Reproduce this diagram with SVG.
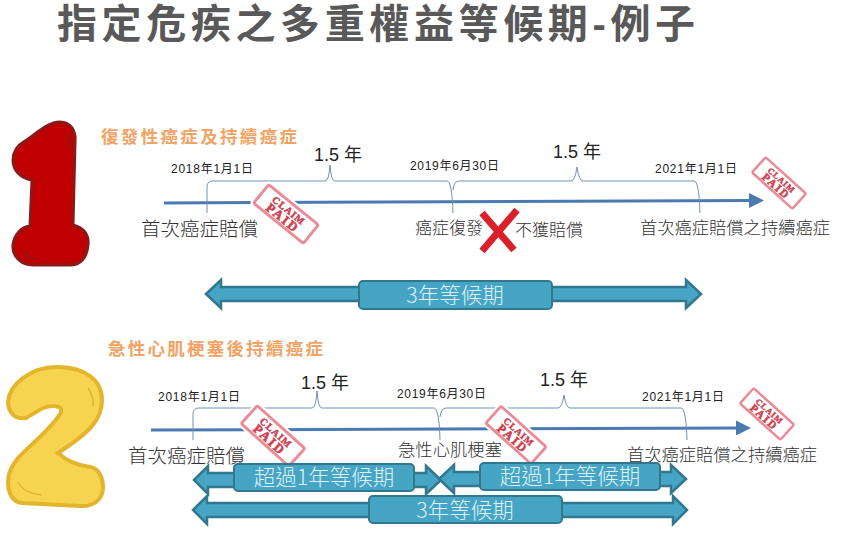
<svg xmlns="http://www.w3.org/2000/svg" width="847" height="555" viewBox="0 0 847 555">
<style>
text{font-family:"Liberation Sans","Noto Sans CJK TC",sans-serif}
.cjk{font-family:"Noto Sans CJK TC","Noto Sans CJK SC",sans-serif}
.title{font-size:40px;font-weight:700;fill:#595959}
.head{font-size:17.5px;font-weight:700;fill:#f2a366}
.date{font-size:12px;fill:#222}
.yr{font-size:18px;fill:#222}
.lbl{fill:#333;font-weight:300}
.btxt{font-size:21.500px;fill:#dff1f6;text-anchor:middle;font-weight:300}
.brace{fill:none;stroke:#6d93b8;stroke-width:1}
.axis{fill:none;stroke:#4a7aaf;stroke-width:3}
.arr{fill:#46a5c4;stroke:#31788f;stroke-width:2.5;stroke-linejoin:miter}
.box{fill:#46a5c4;stroke:#31788f;stroke-width:2}
.stamp-bg{fill:#fff;stroke:#fff;stroke-width:5}
.stamp-r{fill:#fff;stroke:#e98c97;stroke-width:3}
.stamp-t{font-family:"Liberation Serif",serif;font-weight:700;fill:#cf4050;text-anchor:middle}
</style>
<defs>
<g id="stamp">
<rect class="stamp-bg" x="-33" y="-13" width="66" height="26" rx="2"/>
<rect class="stamp-r" x="-32" y="-12" width="64" height="24" rx="2"/>
<text class="stamp-t" x="0" y="-1" font-size="10" stroke="#cf4050" stroke-width=".5" letter-spacing="1">CLAIM</text>
<text class="stamp-t" x="0" y="9.500" font-size="13" stroke="#cf4050" stroke-width=".6" letter-spacing="2">PAID</text>
</g>
<marker id="ah" markerWidth="5" markerHeight="5" refX="1" refY="2.5" orient="auto"><path d="M0 0L5 2.5L0 5Z" fill="#4a7aaf"/></marker>
</defs>
<text class="title" x="57" y="38" textLength="638" lengthAdjust="spacing">指定危疾之多重權益等候期-例子</text>

<g id="num-1"><path d="M60 122C70 122 76 130 75 142L73 225C85 228 89 236 88 245C87 258 80 265 70 265L33 265C20 265 12 255 13 245C14 235 21 227 30 226L32 180C20 178 13 170 13 160C13 150 18 145 25 141C35 135 47 122 60 122Z" fill="#c00000" stroke="#8a1a1a" stroke-width="3"/><path d="M22 250C26 256 30 258 36 259M66 134C69 138 70 142 70 148" fill="none" stroke="#8a1a1a" stroke-width="1.5"/></g>
<g id="num-2"><path d="M57 367C85 367 102 380 102 400C102 420 90 432 58 453C70 464 82 466 90 467C98 468 103 477 103 487C103 500 93 507 80 506L22 503C12 502 8 492 8 482C8 472 12 466 18 458C30 445 50 430 60 414C65 406 55 405 46 407C38 410 32 415 26 418C15 420 8 412 8 402C9 385 30 367 57 367Z" fill="#f6d44f" stroke="#e3b52c" stroke-width="4"/><path d="M18 482C22 490 30 494 42 495M88 388C92 394 94 400 93 406" fill="none" stroke="#e3b52c" stroke-width="1.5"/></g>

<g id="section-1">
<text class="head cjk" x="101" y="143" textLength="196">復發性癌症及持續癌症</text>
<text class="date" x="171" y="173" textLength="82">2018<tspan class="cjk">年</tspan>1<tspan class="cjk">月</tspan>1<tspan class="cjk">日</tspan></text>
<text class="date" x="410" y="170" textLength="89">2019<tspan class="cjk">年</tspan>6<tspan class="cjk">月</tspan>30<tspan class="cjk">日</tspan></text>
<text class="date" x="655" y="173" textLength="82">2021<tspan class="cjk">年</tspan>1<tspan class="cjk">月</tspan>1<tspan class="cjk">日</tspan></text>
<text class="yr" x="314" y="161">1.5 <tspan class="cjk">年</tspan></text>
<text class="yr" x="553" y="158">1.5 <tspan class="cjk">年</tspan></text>
</g>
<g id="connectors">
<path class="axis" d="M164 203L752 200.500" marker-end="url(#ah)"/>
<path class="axis" d="M151 430L739 428" marker-end="url(#ah)"/>
<path class="brace" d="M207 213V187Q207 181 213 181H325Q329 181 330 165Q331 181 335 181H447Q452 181 453 213M453 190Q454 181 459 181H571Q575 181 577 167Q579 181 583 181H694Q699 181 700 213"/>
<path class="brace" d="M193 440V414Q193 408 199 408H312Q316 408 317 391Q318 408 322 408H434Q439 408 440 440M440 417Q441 408 446 408H558Q562 408 564 395Q566 408 570 408H681Q686 408 687 440"/>
</g>
<g id="stamp-1"><use href="#stamp" transform="translate(286 214) rotate(39)"/></g>
<g id="stamp-2"><use href="#stamp" transform="translate(779 183) rotate(42) scale(.85)"/></g>
<g id="stamp-3"><use href="#stamp" transform="translate(273 436) rotate(42)"/></g>
<g id="stamp-4"><use href="#stamp" transform="translate(516 435) rotate(42) scale(.95)"/></g>
<g id="stamp-5"><use href="#stamp" transform="translate(767 414) rotate(42) scale(.85)"/></g>
<g id="red-x"><path d="M482 213L514 250M517 210L482 251" fill="none" stroke="#d9202b" stroke-width="7"/></g>

<g id="labels-1">
<text class="lbl cjk" x="141" y="236" font-size="19.500" textLength="117">首次癌症賠償</text>
<text class="lbl cjk" x="415" y="234" font-size="17" textLength="68">癌症復發</text>
<text class="lbl cjk" x="515" y="236" font-size="17" textLength="68">不獲賠償</text>
<text class="lbl cjk" x="640" y="234" font-size="17.300" textLength="190">首次癌症賠償之持續癌症</text>
</g>
<g id="wait-1">
<path class="arr" d="M206 294L221 280V287H686V280L701 294L686 308V301H221V308Z"/>
<rect class="box" x="359" y="281" width="193" height="28" rx="4"/>
<text class="btxt cjk" x="455" y="303">3年等候期</text>
</g>

<g id="section-2">
<text class="head cjk" x="108" y="355" textLength="215">急性心肌梗塞後持續癌症</text>
<text class="date" x="158" y="401" textLength="82">2018<tspan class="cjk">年</tspan>1<tspan class="cjk">月</tspan>1<tspan class="cjk">日</tspan></text>
<text class="date" x="397" y="398" textLength="89">2019<tspan class="cjk">年</tspan>6<tspan class="cjk">月</tspan>30<tspan class="cjk">日</tspan></text>
<text class="date" x="642" y="401" textLength="82">2021<tspan class="cjk">年</tspan>1<tspan class="cjk">月</tspan>1<tspan class="cjk">日</tspan></text>
<text class="yr" x="301" y="389">1.5 <tspan class="cjk">年</tspan></text>
<text class="yr" x="540" y="386">1.5 <tspan class="cjk">年</tspan></text>
<text class="lbl cjk" x="128" y="463" font-size="19.500" textLength="117">首次癌症賠償</text>
<text class="lbl cjk" x="398" y="456" font-size="17.300" textLength="104">急性心肌梗塞</text>
<text class="lbl cjk" x="627" y="461" font-size="17.300" textLength="190">首次癌症賠償之持續癌症</text>
</g>
<g id="wait-2a">
<path class="arr" d="M194 480L208 466V473H426V466L441 480L426 494V487H208V494Z"/>
<rect class="box" x="234" y="464" width="180" height="27" rx="4"/>
<text class="btxt cjk" x="324" y="485">超過1年等候期</text>
</g>
<g id="wait-2b">
<path class="arr" d="M439 479L454 465V472H671V465L686 479L671 493V486H454V493Z"/>
<rect class="box" x="480" y="463" width="180" height="27" rx="4"/>
<text class="btxt cjk" x="570" y="484">超過1年等候期</text>
</g>
<g id="wait-3">
<path class="arr" d="M193 510L207 496V503H673V496L687 510L673 524V517H207V524Z"/>
<rect class="box" x="369" y="496" width="193" height="27" rx="4"/>
<text class="btxt cjk" x="465" y="518">3年等候期</text>
</g>
</svg>
